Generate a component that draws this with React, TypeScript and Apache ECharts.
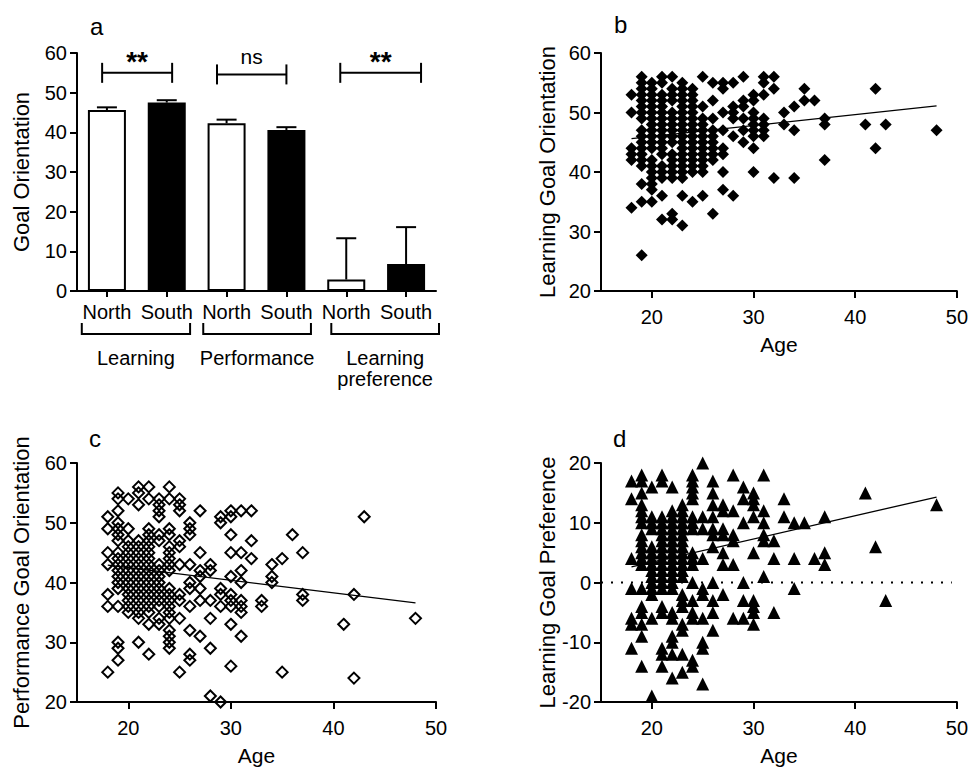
import React, { useEffect, useRef } from 'react';
import * as echarts from 'echarts';

const FONT = "'Liberation Sans', Arial, Helvetica, sans-serif";

// ---------- Panel a: bar chart ----------
const barCategories = ['North', 'South', 'North', 'South', 'North', 'South'];
const barMeans = [45.6, 47.5, 42.3, 40.6, 2.9, 6.8];
const barErrors = [0.7, 0.6, 0.9, 0.7, 10.4, 9.3];
const barFilled = [false, true, false, true, false, true];
const groupNames = ['Learning', 'Performance', 'Learning\npreference'];
const groupStart = [-0.42, 1.61, 3.75];
const groupEnd = [1.39, 3.41, 5.55];
const sigLabels = ['**', 'ns', '**'];
const sigStart = [-0.08, 1.84, 3.9];
const sigEnd = [1.09, 3.0, 5.25];
const sigLevel = [55, 54.6, 55];

// ---------- Scatter panels (age, scores) ----------
const ageTicks = [20, 30, 40, 50];

const learningByAge: [number, number[]][] = [
  [18, [53, 50, 44, 43, 42, 34]],
  [19, [56, 55, 54, 53, 52, 51, 50, 49, 47, 46, 45, 44, 43, 42, 41, 38, 35, 26]],
  [20, [55, 54, 53, 52, 51, 50, 49, 48, 47, 46, 45, 44, 42, 41, 40, 39, 38, 37, 35]],
  [21, [56, 55, 53, 52, 51, 50, 49, 48, 47, 46, 45, 44, 43, 41, 40, 39, 36, 32]],
  [22, [56, 54, 53, 52, 50, 49, 48, 47, 46, 45, 43, 42, 41, 40, 39, 33, 32]],
  [23, [55, 54, 53, 52, 51, 50, 49, 48, 47, 46, 45, 44, 43, 42, 41, 40, 39, 36, 31]],
  [24, [54, 53, 52, 51, 50, 49, 48, 47, 46, 45, 44, 43, 42, 41, 40, 35]],
  [25, [56, 51, 49, 48, 47, 46, 45, 44, 43, 42, 41, 40, 36]],
  [26, [55, 52, 49, 47, 46, 45, 44, 43, 42, 33]],
  [27, [55, 54, 50, 47, 44, 43, 40, 37]],
  [28, [55, 51, 50, 49, 46, 36]],
  [29, [56, 52, 51, 49, 47, 45]],
  [30, [53, 52, 50, 49, 48, 47, 46, 44, 40]],
  [31, [56, 55, 53, 49, 48, 47, 46]],
  [32, [56, 54, 39]],
  [33, [50, 48]],
  [34, [51, 47, 39]],
  [35, [54, 52]],
  [36, [52]],
  [37, [49, 48, 42]],
  [41, [48]],
  [42, [54, 44]],
  [43, [48]],
  [48, [47]],
];

const performanceByAge: [number, number[]][] = [
  [18, [51, 49, 45, 43, 38, 36, 25]],
  [19, [55, 54, 52, 50, 49, 48, 47, 45, 44, 43, 42, 41, 40, 39, 36, 30, 29, 27]],
  [20, [54, 49, 47, 46, 45, 44, 43, 42, 41, 40, 39, 38, 37, 36, 35]],
  [21, [56, 55, 53, 47, 46, 45, 44, 43, 42, 41, 40, 39, 38, 37, 36, 35, 34, 30]],
  [22, [56, 54, 49, 48, 47, 46, 45, 44, 43, 42, 41, 40, 39, 38, 37, 36, 35, 33, 28]],
  [23, [54, 53, 52, 51, 48, 47, 43, 42, 41, 40, 39, 38, 37, 36, 34, 33]],
  [24, [56, 54, 49, 48, 46, 45, 44, 43, 42, 39, 38, 37, 36, 35, 34, 32, 31, 30, 29]],
  [25, [54, 53, 52, 47, 46, 43, 38, 37, 34, 25]],
  [26, [50, 49, 48, 43, 40, 39, 36, 32, 28, 27]],
  [27, [52, 45, 42, 41, 39, 37, 31]],
  [28, [43, 42, 37, 34, 29, 21]],
  [29, [51, 50, 39, 38, 36, 20]],
  [30, [52, 51, 48, 45, 41, 38, 37, 36, 33, 26]],
  [31, [52, 45, 42, 40, 37, 36, 35, 31]],
  [32, [52, 47, 44]],
  [33, [37, 36]],
  [34, [43, 41, 40]],
  [35, [44, 25]],
  [36, [48]],
  [37, [45, 38, 37]],
  [41, [33]],
  [42, [38, 24]],
  [43, [51]],
  [48, [34]],
];

const preferenceByAge: [number, number[]][] = [
  [18, [17, 14, 4, -1, -6, -7, -11]],
  [19, [18, 17, 15, 13, 12, 11, 10, 8, 7, 6, 5, 4, 3, -1, -4, -5, -7, -9, -14]],
  [20, [16, 11, 10, 9, 6, 5, 4, 3, 2, 1, 0, -1, -2, -6, -19]],
  [21, [18, 17, 11, 10, 9, 8, 7, 6, 5, 4, 3, 2, 1, 0, -1, -4, -5, -11, -12, -14]],
  [22, [16, 12, 11, 10, 9, 8, 7, 6, 5, 4, 3, 2, 1, 0, -1, -5, -6, -9, -10, -12, -16]],
  [23, [13, 12, 11, 10, 9, 8, 7, 6, 5, 4, 3, 2, 1, -2, -3, -4, -7, -8, -12, -15]],
  [24, [18, 17, 16, 15, 14, 11, 10, 9, 5, 4, 3, 0, -3, -5, -6, -13, -14]],
  [25, [20, 11, 9, 4, -1, -2, -6, -10, -11, -17]],
  [26, [17, 15, 13, 11, 9, 8, 6, 0, -3, -5, -8]],
  [27, [13, 12, 9, 8, 5, 3, -2]],
  [28, [18, 12, 8, 7, 3, -6]],
  [29, [16, 14, 10, 0, -3, -6]],
  [30, [15, 14, 13, 11, 5, -3, -4, -5, -7]],
  [31, [18, 12, 10, 8, 7, 1]],
  [32, [7, 4, -5]],
  [33, [14, 11]],
  [34, [10, 4, -1]],
  [35, [10]],
  [36, [4]],
  [37, [11, 5, 3]],
  [41, [15]],
  [42, [6]],
  [43, [-3]],
  [48, [13]],
];

const learningFit = [[18, 45.6], [48, 51.1]];
const performanceFit = [[18, 42.9], [48, 36.6]];
const preferenceFit = [[18, 2.6], [48, 14.3]];
const preferenceZero = [[15, 0], [49.5, 0]];

const flatten = (g: [number, number[]][]) =>
  g.flatMap(([age, vals]) => vals.map((v) => [age, v]));

const BLACK = '#000';

function axisBase(extra: any = {}) {
  return {
    axisLine: { show: true, onZero: false, lineStyle: { color: BLACK, width: 2 } },
    splitLine: { show: false },
    ...extra,
    axisTick: {
      show: true,
      inside: false,
      length: 7,
      lineStyle: { color: BLACK, width: 2 },
      ...(extra.axisTick || {}),
    },
    axisLabel: {
      color: BLACK,
      fontSize: 20,
      fontFamily: FONT,
      ...(extra.axisLabel || {}),
    },
    nameTextStyle: {
      color: BLACK,
      fontFamily: FONT,
      ...(extra.nameTextStyle || {}),
    },
  };
}

function ageAxis(gridIndex: number) {
  return {
    gridIndex,
    type: 'value',
    min: 15,
    max: 50,
    name: 'Age',
    nameLocation: 'middle',
    nameGap: 43,
    ...axisBase({
      axisTick: { customValues: ageTicks },
      axisLabel: { customValues: ageTicks, margin: 16 },
      nameTextStyle: { fontSize: 21 },
    }),
  };
}

function scoreAxis(gridIndex: number, min: number, max: number, name: string, gap: number) {
  return {
    gridIndex,
    type: 'value',
    min,
    max,
    interval: 10,
    name,
    nameLocation: 'middle',
    nameGap: gap,
    ...axisBase({
      axisLabel: { margin: 10 },
      nameTextStyle: { fontSize: 22 },
    }),
  };
}

function textEl(text: string, x: number, y: number, fontSize: number, extra: any = {}) {
  return {
    type: 'text',
    style: {
      text,
      x,
      y,
      fill: BLACK,
      fontSize,
      fontFamily: FONT,
      align: 'center',
      textAlign: 'center',
      verticalAlign: 'middle',
      textVerticalAlign: 'middle',
      ...extra,
    },
  };
}

function lineEl(x1: number, y1: number, x2: number, y2: number) {
  return {
    type: 'line',
    shape: { x1, y1, x2, y2 },
    style: { stroke: BLACK, lineWidth: 2 },
  };
}

function buildOption(): any {
  return {
    animation: false,
    backgroundColor: '#fff',
    textStyle: { fontFamily: FONT },
    grid: [
      { left: 77, top: 53, width: 359, height: 238 },
      { left: 601, top: 53, width: 358, height: 238 },
      { left: 77, top: 463, width: 359, height: 239 },
      { left: 601, top: 463, width: 358, height: 239 },
    ],
    xAxis: [
      {
        gridIndex: 0,
        type: 'category',
        data: barCategories,
        ...axisBase({
          axisTick: { alignWithLabel: true, length: 6 },
          axisLabel: { margin: 11, interval: 0 },
        }),
      },
      { gridIndex: 0, type: 'value', min: -0.5, max: 5.5, show: false },
      ageAxis(1),
      ageAxis(2),
      ageAxis(3),
    ],
    yAxis: [
      scoreAxis(0, 0, 60, 'Goal Orientation', 45),
      scoreAxis(1, 20, 60, 'Learning Goal Orientation', 43),
      scoreAxis(2, 20, 60, 'Performance Goal Orientation', 45),
      scoreAxis(3, -20, 20, 'Learning Goal Preference', 43),
    ],
    graphic: [
      { type: 'text', left: 90, top: 14, style: { text: 'a', fontSize: 24, fontFamily: FONT, fill: BLACK } },
      { type: 'text', left: 614, top: 12, style: { text: 'b', fontSize: 24, fontFamily: FONT, fill: BLACK } },
      { type: 'text', left: 89, top: 426, style: { text: 'c', fontSize: 24, fontFamily: FONT, fill: BLACK } },
      { type: 'text', left: 613, top: 426, style: { text: 'd', fontSize: 24, fontFamily: FONT, fill: BLACK } },
    ],
    series: [
      {
        type: 'bar',
        xAxisIndex: 0,
        yAxisIndex: 0,
        barWidth: 38,
        data: barMeans.map((v, i) => ({
          value: v,
          itemStyle: barFilled[i]
            ? { color: BLACK, borderColor: BLACK, borderWidth: 2 }
            : { color: '#fff', borderColor: BLACK, borderWidth: 2 },
        })),
      },
      {
        type: 'custom',
        xAxisIndex: 1,
        yAxisIndex: 0,
        z: 3,
        data: barMeans.map((m, i) => [i, m, barErrors[i]]),
        renderItem: (_p: any, api: any) => {
          const i = api.value(0);
          const m = api.value(1);
          const e = api.value(2);
          const a = api.coord([i, m]);
          const b = api.coord([i, m + e]);
          return {
            type: 'group',
            children: [lineEl(a[0], a[1], b[0], b[1]), lineEl(b[0] - 10, b[1], b[0] + 10, b[1])],
          };
        },
      },
      {
        type: 'custom',
        xAxisIndex: 1,
        yAxisIndex: 0,
        z: 3,
        encode: { x: [0, 2], y: 1 },
        data: sigLabels.map((_, i) => [sigStart[i], sigLevel[i], sigEnd[i]]),
        renderItem: (p: any, api: any) => {
          const s = api.coord([api.value(0), api.value(1)]);
          const e = api.coord([api.value(2), api.value(1)]);
          const label = sigLabels[p.dataIndex];
          const star = label === '**';
          const mid = (s[0] + e[0]) / 2;
          return {
            type: 'group',
            children: [
              lineEl(s[0], s[1], e[0], e[1]),
              lineEl(s[0], s[1] - 10, s[0], s[1] + 10),
              lineEl(e[0], e[1] - 10, e[0], e[1] + 10),
              textEl(label, mid, s[1] + (star ? -11 : -18), star ? 28 : 21, star ? { fontWeight: 'bold' } : {}),
            ],
          };
        },
      },
      {
        type: 'custom',
        xAxisIndex: 1,
        yAxisIndex: 0,
        z: 3,
        encode: { x: [0, 2], y: 1 },
        data: groupNames.map((_, i) => [groupStart[i], 0, groupEnd[i]]),
        renderItem: (p: any, api: any) => {
          const s = api.coord([api.value(0), 0]);
          const e = api.coord([api.value(2), 0]);
          const y0 = s[1];
          const mid = (s[0] + e[0]) / 2;
          return {
            type: 'group',
            children: [
              lineEl(s[0], y0 + 43, e[0], y0 + 43),
              lineEl(s[0], y0 + 32, s[0], y0 + 44),
              lineEl(e[0], y0 + 32, e[0], y0 + 44),
              textEl(groupNames[p.dataIndex], mid, y0 + 56, 20, {
                verticalAlign: 'top',
                textVerticalAlign: 'top',
                lineHeight: 21,
              }),
            ],
          };
        },
      },
      // Panel b
      {
        type: 'line',
        xAxisIndex: 2,
        yAxisIndex: 1,
        data: learningFit,
        symbol: 'none',
        z: 1,
        lineStyle: { color: BLACK, width: 1.3 },
      },
      {
        type: 'scatter',
        xAxisIndex: 2,
        yAxisIndex: 1,
        symbol: 'diamond',
        symbolSize: 12,
        z: 2,
        itemStyle: { color: BLACK, opacity: 1 },
        data: flatten(learningByAge),
      },
      // Panel c
      {
        type: 'line',
        xAxisIndex: 3,
        yAxisIndex: 2,
        data: performanceFit,
        symbol: 'none',
        z: 1,
        lineStyle: { color: BLACK, width: 1.3 },
      },
      {
        type: 'scatter',
        xAxisIndex: 3,
        yAxisIndex: 2,
        symbol: 'diamond',
        symbolSize: 11,
        z: 2,
        itemStyle: { color: 'rgba(255,255,255,0)', borderColor: BLACK, borderWidth: 2, opacity: 1 },
        data: flatten(performanceByAge),
      },
      // Panel d
      {
        type: 'line',
        xAxisIndex: 4,
        yAxisIndex: 3,
        data: preferenceZero,
        symbol: 'none',
        z: 1,
        lineStyle: { color: BLACK, width: 2, type: [2, 8] },
      },
      {
        type: 'line',
        xAxisIndex: 4,
        yAxisIndex: 3,
        data: preferenceFit,
        symbol: 'none',
        z: 1,
        lineStyle: { color: BLACK, width: 1.3 },
      },
      {
        type: 'scatter',
        xAxisIndex: 4,
        yAxisIndex: 3,
        symbol: 'triangle',
        symbolSize: 13,
        z: 2,
        itemStyle: { color: BLACK, opacity: 1 },
        data: flatten(preferenceByAge),
      },
    ],
  };
}

export default function App() {
  const ref = useRef<HTMLDivElement>(null);
  useEffect(() => {
    if (!ref.current) return;
    const chart = echarts.init(ref.current, undefined, { renderer: 'svg' });
    chart.setOption(buildOption());
    return () => chart.dispose();
  }, []);
  return (
    <div
      ref={ref}
      style={{ position: 'fixed', left: 0, top: 0, width: 971, height: 768, background: '#fff' }}
    />
  );
}
